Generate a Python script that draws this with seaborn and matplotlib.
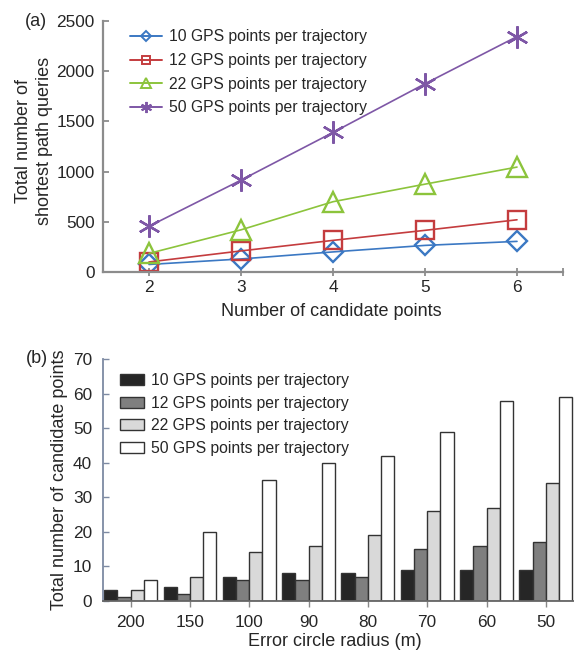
import matplotlib
matplotlib.use("Agg")
import matplotlib.pyplot as plt
import seaborn as sns
import pandas as pd
from matplotlib.patches import Patch
from matplotlib.lines import Line2D
from matplotlib.ticker import FixedLocator

# ---------------- data ----------------
candidate_points = [2, 3, 4, 5, 6]
series_labels = ["10 GPS points per trajectory", "12 GPS points per trajectory",
                 "22 GPS points per trajectory", "50 GPS points per trajectory"]
queries_10 = [75, 130, 200, 265, 305]
queries_12 = [100, 210, 315, 415, 520]
queries_22 = [185, 420, 700, 875, 1045]
queries_50 = [455, 915, 1390, 1875, 2345]

radius_labels = ["200", "150", "100", "90", "80", "70", "60", "50"]
cand_10 = [3, 4, 7, 8, 8, 9, 9, 9]
cand_12 = [1, 2, 6, 6, 7, 15, 16, 17]
cand_22 = [3, 7, 14, 16, 19, 26, 27, 34]
cand_50 = [6, 20, 35, 40, 42, 49, 58, 59]

line_colors = ["#3b78c3", "#c43c3e", "#8cc43c", "#7e57a6"]
line_markers = ["D", "s", "^", (6, 2, 0)]
marker_sizes = [10, 12.5, 14, 16]
bar_colors = ["#262626", "#7f7f7f", "#d9d9d9", "#ffffff"]

sns.set_theme(style="white")
plt.rcParams["font.family"] = ["Liberation Sans", "DejaVu Sans"]

W, H = 574, 652
fig = plt.figure(figsize=(W / 100, H / 100), dpi=100)

def ax_rect(l, t, r, b):
    return [l / W, 1 - b / H, (r - l) / W, (b - t) / H]

TICK_FS = 12.4
LABEL_FS = 13
LEG_FS = 11.3

# ---------------- panel (a) ----------------
ax1 = fig.add_axes(ax_rect(103, 21, 563, 272))
queries = [queries_10, queries_12, queries_22, queries_50]
for lab, vals, c, m, ms in zip(series_labels, queries, line_colors, line_markers, marker_sizes):
    sns.lineplot(x=candidate_points, y=vals, ax=ax1, color=c, marker=m,
                 markersize=ms, markerfacecolor="none", markeredgecolor=c,
                 markeredgewidth=1.7, linewidth=1.2, label=lab, legend=False)

ax1.set_xlim(1.5, 6.5)
ax1.set_ylim(0, 2500)
ax1.set_xticks(candidate_points)
ax1.xaxis.set_minor_locator(FixedLocator([6.5]))
ax1.set_yticks([0, 500, 1000, 1500, 2000, 2500])
for s in ["top", "right"]:
    ax1.spines[s].set_visible(False)
for s in ["left", "bottom"]:
    ax1.spines[s].set_color("#8c8c8c")
    ax1.spines[s].set_linewidth(1.6)
ax1.tick_params(axis="x", which="both", direction="inout", length=6, width=1.3,
                color="#8c8c8c", labelsize=TICK_FS, pad=3, bottom=True)
ax1.tick_params(axis="y", direction="in", length=4, width=1.3, color="#8c8c8c",
                labelsize=TICK_FS, pad=6, left=True)
ax1.set_xlabel("Number of candidate points", fontsize=LABEL_FS)
ax1.xaxis.set_label_coords(0.497, -0.158)
ax1.xaxis.label.set_va("center")
ax1.set_ylabel("Total number of\nshortest path queries", fontsize=LABEL_FS, linespacing=1.3)
ax1.yaxis.set_label_coords(-0.15, 0.522)
ax1.yaxis.label.set_va("center")

handles1 = [Line2D([0], [0], color=c, marker=m, markersize=ms * 0.5,
                   markerfacecolor="none", markeredgecolor=c, markeredgewidth=1.4,
                   linewidth=1.4)
            for c, m, ms in zip(line_colors, line_markers, marker_sizes)]
ax1.legend(handles1, series_labels, loc="upper left",
           bbox_to_anchor=((130 - 103) / 460, (272 - 29.5) / 251),
           frameon=False, fontsize=LEG_FS, handlelength=2.05, handletextpad=0.45,
           labelspacing=0.55, borderpad=0, borderaxespad=0)

fig.text(25 / W, 1 - 21 / H, "(a)", fontsize=LABEL_FS, ha="left", va="center")

# ---------------- panel (b) ----------------
ax2 = fig.add_axes(ax_rect(103.3, 359.3, 574, 600.7))
cands = [cand_10, cand_12, cand_22, cand_50]
df = pd.DataFrame({
    "radius": radius_labels * 4,
    "series": [lab for lab in series_labels for _ in radius_labels],
    "value": [v for vals in cands for v in vals],
})
sns.barplot(data=df, x="radius", y="value", hue="series", order=radius_labels,
            hue_order=series_labels, palette=bar_colors, saturation=1,
            width=0.89, gap=0, edgecolor="#333333", linewidth=1.0, ax=ax2,
            legend=False, errorbar=None)
ax2.set_xlim(-0.46, 7.475)
ax2.set_ylim(0, 70)
ax2.set_yticks(range(0, 71, 10))
for s in ["top", "right"]:
    ax2.spines[s].set_visible(False)
ax2.spines["left"].set_color("#7d8aa3")
ax2.spines["left"].set_linewidth(1.3)
ax2.spines["bottom"].set_color("#666666")
ax2.spines["bottom"].set_linewidth(1.3)
ax2.tick_params(axis="x", direction="out", length=4, width=1.0, color="#888888",
                labelsize=TICK_FS, pad=6, bottom=True)
ax2.tick_params(axis="y", direction="in", length=4, width=1.0, color="#7d8aa3",
                labelsize=TICK_FS, pad=8, left=True)
ax2.set_xlabel("Error circle radius (m)", fontsize=LABEL_FS)
ax2.xaxis.set_label_coords(0.492, -0.17)
ax2.xaxis.label.set_va("center")
ax2.set_ylabel("Total number of candidate points", fontsize=LABEL_FS)
ax2.yaxis.set_label_coords(-0.094, 0.5)
ax2.yaxis.label.set_va("center")

handles2 = [Patch(facecolor=c, edgecolor="#333333", linewidth=1.0) for c in bar_colors]
ax2.legend(handles2, series_labels, loc="upper left",
           bbox_to_anchor=((120 - 103.3) / 470.7, (600.7 - 373) / 241.4),
           frameon=False, fontsize=LEG_FS, handlelength=1.55, handleheight=0.7,
           handletextpad=0.45, labelspacing=0.48, borderpad=0, borderaxespad=0)

fig.text(26 / W, 1 - 358 / H, "(b)", fontsize=LABEL_FS, ha="left", va="center")

fig.savefig("out.png", dpi=100)
